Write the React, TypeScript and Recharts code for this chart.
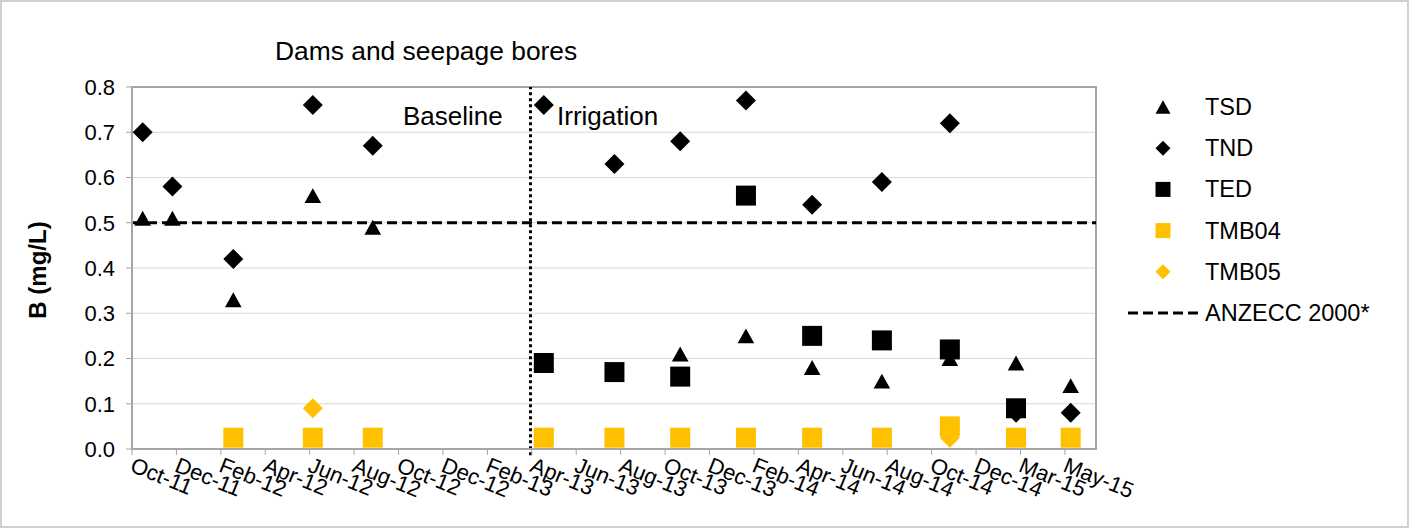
import React from 'react';
import {
  ScatterChart,
  Scatter,
  XAxis,
  YAxis,
  CartesianGrid,
  ReferenceLine,
  ReferenceArea,
} from 'recharts';

const FONT = '"Liberation Sans", Arial, Helvetica, sans-serif';

// Axis labels, one every axis step (x = 0 .. 21)
const tickLabels = [
  'Oct-11', 'Dec-11', 'Feb-12', 'Apr-12', 'Jun-12', 'Aug-12', 'Oct-12', 'Dec-12',
  'Feb-13', 'Apr-13', 'Jun-13', 'Aug-13', 'Oct-13', 'Dec-13', 'Feb-14', 'Apr-14',
  'Jun-14', 'Aug-14', 'Oct-14', 'Dec-14', 'Mar-15', 'May-15',
];
const yTicks = [0, 0.1, 0.2, 0.3, 0.4, 0.5, 0.6, 0.7, 0.8];

// Sampling rounds, as positions on the time axis
const rounds = [0.24, 0.91, 2.28, 4.07, 5.42, 9.27, 10.86, 12.34, 13.82, 15.31, 16.88, 18.41, 19.9, 21.13];

// Boron concentrations (mg/L) per round; null = not sampled
const tsdValues = [0.51, 0.51, 0.33, 0.56, 0.49, null, null, 0.21, 0.25, 0.18, 0.15, 0.2, 0.19, 0.14];
const tndValues = [0.7, 0.58, 0.42, 0.76, 0.67, 0.76, 0.63, 0.68, 0.77, 0.54, 0.59, 0.72, 0.08, 0.08];
const tedValues = [null, null, null, null, null, 0.19, 0.17, 0.16, 0.56, 0.25, 0.24, 0.22, 0.09, null];
const tmb04Values = [null, null, 0.025, 0.025, 0.025, 0.025, 0.025, 0.025, 0.025, 0.025, 0.025, 0.05, 0.025, 0.025];
const tmb05Values = [null, null, null, 0.09, null, null, null, null, null, null, null, 0.025, null, null];

const guideline = 0.5; // ANZECC 2000*
const irrigationStart = 8.97;
const xMax = 21.7;

const toPoints = (vals: (number | null)[]) =>
  vals
    .map((v, i) => (v == null ? null : { x: rounds[i], y: v }))
    .filter((p): p is { x: number; y: number } => p !== null);

const BLACK = '#000000';
const GOLD = '#FFC000';

type MarkerKind = 'triangle' | 'diamond' | 'square';

function markerPath(kind: MarkerKind, cx: number, cy: number, r: number) {
  if (kind === 'triangle') {
    const h = r * 0.9;
    return `M${cx},${cy - h} L${cx + r},${cy + h} L${cx - r},${cy + h} Z`;
  }
  if (kind === 'diamond') {
    return `M${cx},${cy - r} L${cx + r},${cy} L${cx},${cy + r} L${cx - r},${cy} Z`;
  }
  return `M${cx - r},${cy - r} H${cx + r} V${cy + r} H${cx - r} Z`;
}

const makeShape = (kind: MarkerKind, color: string, r: number) => (props: any) => {
  const { cx, cy } = props;
  if (cx == null || cy == null) return <g />;
  return <path d={markerPath(kind, cx, cy, r)} fill={color} stroke="none" />;
};

const series = [
  { name: 'TSD', kind: 'triangle' as MarkerKind, color: BLACK, r: 8.3, data: toPoints(tsdValues) },
  { name: 'TND', kind: 'diamond' as MarkerKind, color: BLACK, r: 10, data: toPoints(tndValues) },
  { name: 'TED', kind: 'square' as MarkerKind, color: BLACK, r: 10, data: toPoints(tedValues) },
  { name: 'TMB04', kind: 'square' as MarkerKind, color: GOLD, r: 10, data: toPoints(tmb04Values) },
  { name: 'TMB05', kind: 'diamond' as MarkerKind, color: GOLD, r: 10, data: toPoints(tmb05Values) },
];

const XTick = (props: any) => {
  const { x, y, payload } = props;
  const label = tickLabels[payload.value] ?? '';
  const ax = x - 3;
  const ay = y + 14;
  return (
    <text
      x={ax}
      y={ay}
      transform={`rotate(22, ${ax}, ${ay})`}
      textAnchor="start"
      fontFamily={FONT}
      fontSize={22}
      fill="#000"
    >
      {label}
    </text>
  );
};

const legendTop = 107;
const legendStep = 41.2;

export default function App() {
  return (
    <div style={{ position: 'absolute', left: 0, top: 0, width: 1419, height: 529, background: '#fff' }}>
      <ScatterChart
        width={1419}
        height={529}
        margin={{ top: 87, right: 323, bottom: 0, left: 0 }}
      >
        <CartesianGrid horizontal vertical={false} stroke="#d9d9d9" strokeWidth={1} />
        <XAxis
          type="number"
          dataKey="x"
          domain={[0, xMax]}
          ticks={tickLabels.map((_, i) => i)}
          interval={0}
          height={80}
          tick={<XTick />}
          tickSize={6}
          tickLine={{ stroke: '#a6a6a6' }}
          axisLine={{ stroke: '#a6a6a6', strokeWidth: 2 }}
          allowDataOverflow
        />
        <YAxis
          type="number"
          dataKey="y"
          domain={[0, 0.8]}
          ticks={yTicks}
          interval={0}
          width={132}
          tickFormatter={(v: number) => v.toFixed(1)}
          tick={{ fontFamily: FONT, fontSize: 22, fill: '#000' }}
          tickSize={6}
          tickMargin={11}
          tickLine={{ stroke: '#a6a6a6' }}
          axisLine={{ stroke: '#a6a6a6', strokeWidth: 2 }}
        />
        <ReferenceArea
          x1={0}
          x2={xMax}
          y1={0}
          y2={0.8}
          fill="none"
          stroke="#a6a6a6"
          strokeWidth={2}
          ifOverflow="visible"
        />
        <ReferenceLine y={guideline} stroke={BLACK} strokeWidth={3} strokeDasharray="10 5" />
        <ReferenceLine
          segment={[
            { x: irrigationStart, y: -0.014 },
            { x: irrigationStart, y: 0.8 },
          ]}
          ifOverflow="visible"
          stroke={BLACK}
          strokeWidth={3}
          strokeDasharray="3 3"
        />
        {series.map((s) => (
          <Scatter
            key={s.name}
            name={s.name}
            data={s.data}
            isAnimationActive={false}
            shape={makeShape(s.kind, s.color, s.r)}
          />
        ))}
      </ScatterChart>

      <svg
        width={1419}
        height={529}
        style={{ position: 'absolute', left: 0, top: 0, pointerEvents: 'none' }}
      >
        <rect x={1} y={1} width={1407} height={526} fill="none" stroke="#d0d0d0" strokeWidth={2} />
        <text x={275} y={60} fontFamily={FONT} fontSize={26.4} fill="#000">
          Dams and seepage bores
        </text>
        <text x={403} y={125} fontFamily={FONT} fontSize={26} fill="#000">
          Baseline
        </text>
        <text x={557} y={125} fontFamily={FONT} fontSize={26} fill="#000">
          Irrigation
        </text>
        <text
          x={46}
          y={270}
          transform="rotate(-90, 46, 270)"
          textAnchor="middle"
          fontFamily={FONT}
          fontSize={24}
          fontWeight="bold"
          fill="#000"
        >
          B (mg/L)
        </text>
        {series.map((s, i) => {
          const cy = legendTop + i * legendStep;
          return (
            <g key={s.name}>
              <path d={markerPath(s.kind, 1163, cy, 7.5)} fill={s.color} />
              <text x={1205} y={cy + 8} fontFamily={FONT} fontSize={23.5} fill="#000">
                {s.name}
              </text>
            </g>
          );
        })}
        <line
          x1={1128}
          x2={1198}
          y1={legendTop + 5 * legendStep}
          y2={legendTop + 5 * legendStep}
          stroke={BLACK}
          strokeWidth={3}
          strokeDasharray="10 5"
        />
        <text x={1205} y={legendTop + 5 * legendStep + 8} fontFamily={FONT} fontSize={23.5} fill="#000">
          ANZECC 2000*
        </text>
      </svg>
    </div>
  );
}
